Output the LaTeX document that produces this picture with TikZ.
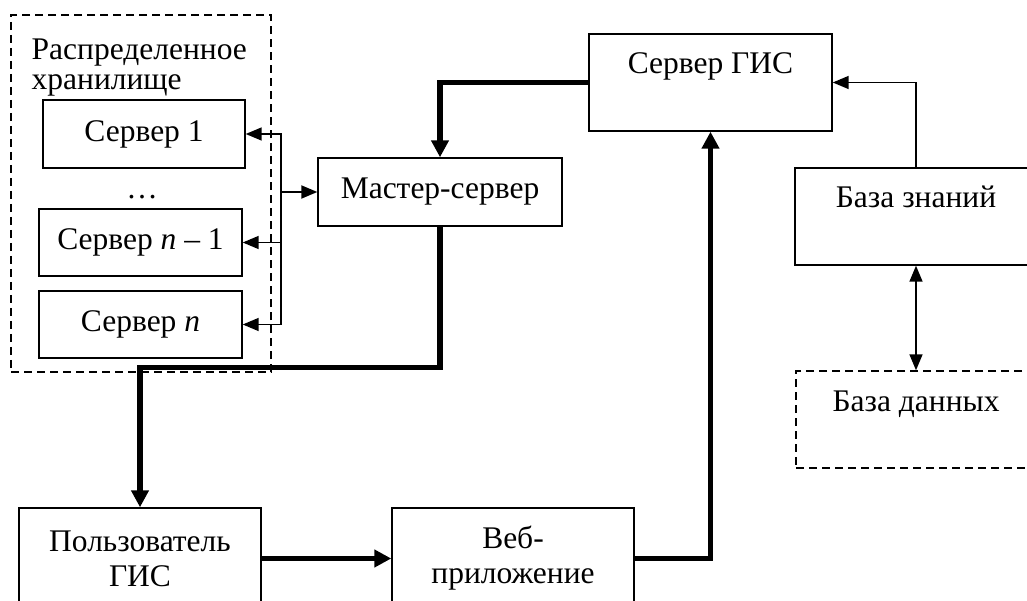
\documentclass[tikz,border=0pt]{standalone}
\usepackage{fontspec}
\setmainfont{Liberation Serif}
\usetikzlibrary{arrows.meta}

\begin{document}
\begin{tikzpicture}[x=1pt,y=-1pt,line width=1.4pt,
  blk/.style={draw,rectangle,inner sep=0pt,align=center,
    font=\fontsize{31.5}{35}\selectfont},
  dblk/.style={blk,dash pattern=on 8pt off 5pt},
  thk/.style={line width=5.5pt,-{Triangle[length=17pt,width=17pt]}},
  thn/.style={line width=1.5pt,-{Triangle[length=16pt,width=13pt]}}]
\useasboundingbox (0,0) rectangle (1027,601);
\clip (0,0) rectangle (1027,601);
% распределенное хранилище
\node[dblk,minimum width=260pt,minimum height=357pt] (stor) at (141,193.5) {};
\node[anchor=north west,inner sep=0pt,align=left,
  font=\fontsize{31.5}{30}\selectfont] (storlbl) at (31,38) {Распределенное\\хранилище};
\node[blk,minimum width=202pt,minimum height=68pt] (s1) at (144,134) {Сервер 1};
\node[font=\fontsize{31.5}{35}\selectfont,inner sep=0pt] (dots) at (142,197) {…};
\node[blk,minimum width=203pt,minimum height=67pt] (sn1) at (140.5,242.5) {Сервер \textit{n} – 1};
\node[blk,minimum width=203pt,minimum height=67pt] (sn) at (140.5,324.5) {Сервер \textit{n}};
% серверы
\node[blk,minimum width=244pt,minimum height=68pt] (master) at (440,192) {Мастер-сервер};
\node[blk,minimum width=243pt,text height=40pt,text depth=57pt,anchor=base] (gis) at (710.5,74) {Сервер ГИС};
\node[blk,minimum width=242pt,text height=40pt,text depth=57pt,anchor=base] (kb) at (916,208) {База знаний};
\node[dblk,minimum width=240pt,text height=40pt,text depth=57pt,anchor=base] (db) at (916,411) {База данных};
\node[blk,minimum width=242pt,minimum height=101pt] (user) at (140,558.5) {Пользователь\\ГИС};
\node[blk,minimum width=242pt,minimum height=101pt] (web) at (513,558.5) {Веб-\\приложение};
% шина к серверам хранилища
\coordinate (bus) at (281,192);
\draw[thn,line width=2pt] (bus) -- (master.west);
\foreach \s in {s1,sn1,sn}
  \draw[thn] (bus) |- (\s.east);
% основные потоки
\draw[thk] (gis.west) -| (master.north);
\draw[thk] (master.south) -- ++(0,141) -| (user.north);
\draw[thk] (user.east) -- (web.west);
\draw[thk] (web.east) -| (gis.south);
\draw[thn] (kb.north) |- (gis.east);
\draw[thn,{Triangle[length=16pt,width=13pt]}-{Triangle[length=16pt,width=13pt]}] (kb.south) -- (db.north);
\end{tikzpicture}
\end{document}
